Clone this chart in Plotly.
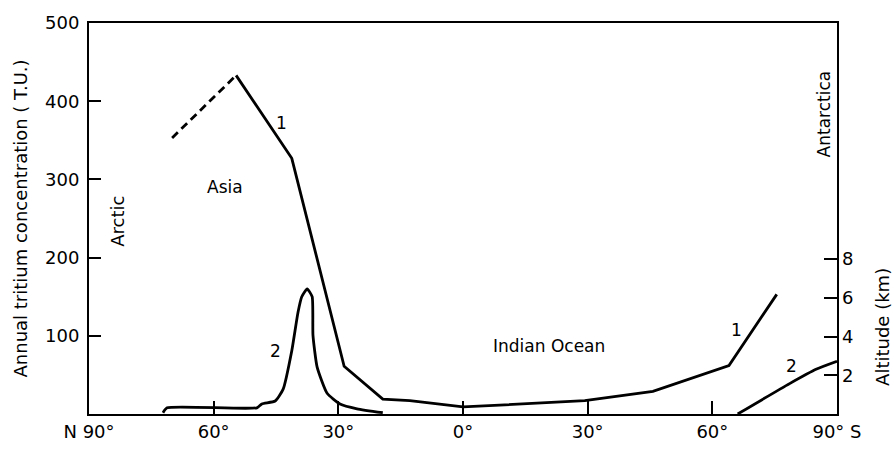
import plotly.graph_objects as go

# Latitude: negative = north, positive = south
tick_lats = [-90, -60, -30, 0, 30, 60, 90]
tick_text = ["N 90°", "60°", "30°", "0°", "30°", "60°", "90° S"]

# Curve 1: annual tritium concentration (T.U.)
lat1_dashed = [-70.0, -54.6]
tu1_dashed = [353, 433]
lat1 = [-54.6, -41.2, -28.6, -19.3, -12.8, 0.0, 29.3, 45.7, 64.0, 75.5]
tu1 = [433, 327, 61, 19, 17, 9, 17, 29, 62, 153]

# Curve 2: altitude (km)
lat2_asia = [-72.2, -71.2, -49.6, -48.4, -45.2, -43.3, -41.2, -39.7, -38.8,
             -37.5, -36.3, -36.1, -35.1, -32.7, -29.6, -25.5, -19.3]
alt2_asia = [0.07, 0.32, 0.32, 0.52, 0.67, 1.27, 3.27, 5.26, 6.06,
             6.46, 6.06, 4.06, 2.42, 1.07, 0.52, 0.27, 0.07]
lat2_ant = [66.1, 78.6, 85.1, 90.0]
alt2_ant = [0.0, 1.57, 2.32, 2.72]

left_ticks = [100, 200, 300, 400, 500]
right_ticks = [2, 4, 6, 8]

FONT = "DejaVu Sans"
LW = 2.8

fig = go.Figure()
fig.add_trace(go.Scatter(x=lat1_dashed, y=tu1_dashed, mode="lines",
                         line=dict(color="black", width=LW, dash="8px,5px"),
                         hoverinfo="skip"))
fig.add_trace(go.Scatter(x=lat1, y=tu1, mode="lines",
                         line=dict(color="black", width=LW), hoverinfo="skip"))
fig.add_trace(go.Scatter(x=lat2_asia, y=alt2_asia, mode="lines", yaxis="y2",
                         line=dict(color="black", width=LW, shape="spline", smoothing=0.5),
                         hoverinfo="skip"))
fig.add_trace(go.Scatter(x=lat2_ant, y=alt2_ant, mode="lines", yaxis="y2",
                         line=dict(color="black", width=LW, shape="spline", smoothing=0.5),
                         hoverinfo="skip"))

annotations = [
    dict(text="Arctic", x=-83.0, y=246, textangle=-90, size=18),
    dict(text="Asia", x=-57.3, y=290, textangle=0, size=17),
    dict(text="1", x=-43.6, y=372, textangle=0, size=17),
    dict(text="2", x=-45.2, y=81, textangle=0, size=17),
    dict(text="Indian Ocean", x=20.7, y=87, textangle=0, size=17),
    dict(text="1", x=65.9, y=107, textangle=0, size=17),
    dict(text="2", x=79.1, y=62, textangle=0, size=17),
    dict(text="Antarctica", x=86.8, y=384, textangle=-90, size=17),
]
ann = []
for a in annotations:
    ann.append(dict(text=a["text"], x=a["x"], y=a["y"], xref="x", yref="y",
                    showarrow=False, textangle=a["textangle"],
                    font=dict(family=FONT, size=a["size"], color="black"),
                    xanchor="center", yanchor="middle"))
ann.append(dict(text="Annual tritium concentration ( T.U.)", xref="paper", yref="paper",
                x=0, y=0.5, xshift=-69, yshift=0, textangle=-90, showarrow=False,
                font=dict(family=FONT, size=18, color="black"),
                xanchor="center", yanchor="middle"))
ann.append(dict(text="Altitude (km)", xref="paper", yref="y2",
                x=1, y=4.5, xshift=46, textangle=-90, showarrow=False,
                font=dict(family=FONT, size=18, color="black"),
                xanchor="center", yanchor="middle"))

fig.update_layout(
    width=894, height=454,
    margin=dict(l=89, r=57, t=13, b=36),
    paper_bgcolor="white", plot_bgcolor="white",
    showlegend=False,
    font=dict(family=FONT, size=18, color="black"),
    xaxis=dict(range=[-90, 90], tickvals=tick_lats, ticktext=tick_text,
               ticks="inside", ticklen=13, tickwidth=1.5, tickcolor="black",
               showline=True, linecolor="black", linewidth=2, mirror=True,
               showgrid=False, zeroline=False,
               tickfont=dict(family=FONT, size=18, color="black")),
    yaxis=dict(range=[0, 500], tickvals=left_ticks,
               ticks="inside", ticklen=12, tickwidth=1.5, tickcolor="black",
               showline=True, linecolor="black", linewidth=2, mirror=True,
               showgrid=False, zeroline=False, ticklabelstandoff=4,
               tickfont=dict(family=FONT, size=18, color="black")),
    yaxis2=dict(range=[0, 20.2], tickvals=right_ticks, overlaying="y", side="right",
                ticks="inside", ticklen=13, tickwidth=1.5, tickcolor="black",
                showline=False, showgrid=False, zeroline=False, ticklabelstandoff=4,
                tickfont=dict(family=FONT, size=18, color="black")),
    annotations=ann,
)

fig.write_html("out.html")
